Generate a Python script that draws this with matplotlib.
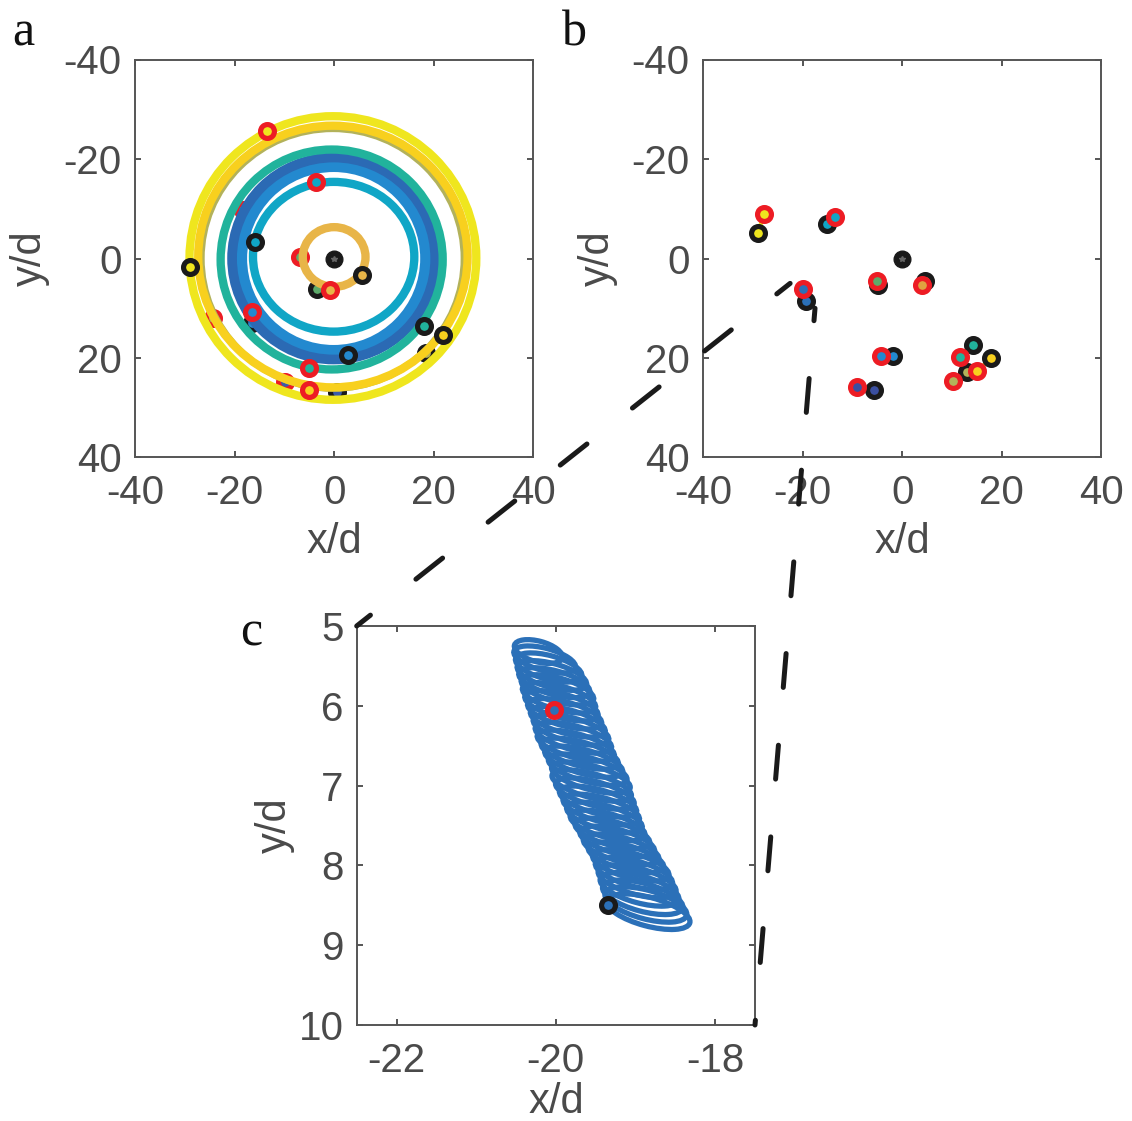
import numpy as np
import matplotlib
matplotlib.use('Agg')
import matplotlib.pyplot as plt
from matplotlib.patches import Ellipse, ConnectionPatch

plt.rcParams.update({
    'font.family': ['Liberation Sans', 'DejaVu Sans'],
    'font.size': 29,
    'axes.unicode_minus': False,
    'axes.linewidth': 1.4, 'axes.edgecolor': '#555555',
    'xtick.color': '#555555', 'ytick.color': '#555555',
    'xtick.labelcolor': '#4a4a4a', 'ytick.labelcolor': '#4a4a4a',
    'axes.labelcolor': '#4a4a4a',
})

# ---- panel a: ring-shaped trajectories (centre, width, height in d) ----
ring_cx = [-0.3, -0.1, -0.1, -0.5, -0.25, -0.25, -0.1, 0.0]
ring_cy = [0.0, 0.0, 0.0, 0.2, -0.4, -0.1, -0.35, -0.3]
ring_w = [52.8, 37.0, 40.8, 44.6, 54.1, 57.6, 32.4, 12.6]
ring_h = [52.2, 37.0, 40.6, 44.2, 52.6, 57.0, 30.1, 12.0]
ring_col = ['#B3B25A', '#2389CF', '#2B6AB4', '#21B39C', '#F8D01E', '#EFE61E', '#10A6C6', '#E8B548']
ring_lw = [5.0, 8.0, 7.0, 6.0, 6.0, 6.0, 6.0, 6.0]

# start (red) / end (black) positions partly hidden under the rings
a_hid_start_x = [-24.4, -9.9, -18.4, -6.9]
a_hid_start_y = [11.9, 24.8, -9.8, -0.3]
a_hid_end_x = [18.4, 0.5, -16.4, -3.4]
a_hid_end_y = [19.0, 26.8, 12.9, 6.1]
a_hid_col = ['#B3B25A', '#3A5BA8', '#2389CF', '#5DAA6A']

# start / end positions drawn on top
a_start_x = [-13.4, -5.1, -5.1, -16.4, -3.7, -0.9]
a_start_y = [-25.7, 26.5, 22.1, 10.8, -15.3, 6.4]
a_end_x = [-29.0, 21.9, 18.0, 2.8, -15.9, 5.5]
a_end_y = [1.7, 15.3, 13.6, 19.3, -3.3, 3.4]
a_col = ['#EFE61E', '#F8D01E', '#21B39C', '#2389CF', '#10A6C6', '#E8B548']

# ---- panel b: snapshot of particle pairs ----
b_start_x = [-27.8, -13.5, -20.0, -5.1, 4.0, -4.3, -9.1, 11.7, 15.1, 10.3]
b_start_y = [-8.9, -8.3, 6.05, 4.6, 5.4, 19.5, 25.9, 19.7, 22.7, 24.7]
b_end_x = [-28.9, -15.0, -19.35, -4.8, 4.5, -1.8, -5.7, 14.3, 17.9, 13.0]
b_end_y = [-5.2, -7.0, 8.5, 5.3, 4.5, 19.5, 26.5, 17.3, 20.0, 22.8]
b_col = ['#EFE61E', '#10A6C6', '#2B70B8', '#5DAA6A', '#E0A040',
         '#2389CF', '#3A4FA0', '#21B39C', '#F8D01E', '#B3B25A']

# ---- panel c: looping trajectory (loop centre, width, height in d) ----
loop_x = [-20.22, -20.14, -20.09, -20.05, -20.02, -19.98, -19.96, -19.93, -19.89, -19.85,
          -19.81, -19.78, -19.75, -19.70, -19.65, -19.60, -19.56, -19.55, -19.51, -19.47,
          -19.43, -19.39, -19.35, -19.29, -19.23, -19.18, -19.12, -19.06, -19.02, -18.98,
          -18.95, -18.91, -18.87, -18.84]
loop_y = [5.32, 5.42, 5.52, 5.62, 5.71, 5.80, 5.90, 6.00, 6.10, 6.20,
          6.30, 6.40, 6.50, 6.60, 6.70, 6.80, 6.90, 7.00, 7.10, 7.20,
          7.30, 7.40, 7.50, 7.60, 7.70, 7.80, 7.90, 8.00, 8.10, 8.20,
          8.30, 8.40, 8.49, 8.58]
loop_w = [0.62, 0.80, 0.86, 0.90, 0.92, 0.94, 0.95, 0.95, 0.96, 0.97,
          0.98, 0.99, 1.00, 1.00, 1.01, 1.02, 1.02, 1.03, 1.02, 1.00,
          0.99, 0.98, 0.97, 0.97, 0.97, 0.98, 0.98, 0.99, 1.00, 1.01,
          1.02, 1.04, 1.06, 1.08]
loop_h = [0.26, 0.28, 0.30, 0.30, 0.30, 0.30, 0.30, 0.30, 0.30, 0.30,
          0.30, 0.30, 0.30, 0.30, 0.30, 0.30, 0.30, 0.30, 0.30, 0.30,
          0.30, 0.30, 0.30, 0.30, 0.30, 0.30, 0.30, 0.31, 0.32, 0.33,
          0.34, 0.35, 0.36, 0.36]
c_start = (-20.02, 6.05)
c_end = (-19.34, 8.50)

W, H = 1132, 1121
fig = plt.figure(figsize=(W / 100, H / 100), dpi=100)
axa = fig.add_axes([135 / W, 1 - 457.5 / H, 398.3 / W, 398 / H])
axb = fig.add_axes([703 / W, 1 - 457.5 / H, 398.3 / W, 398 / H])
axc = fig.add_axes([356.7 / W, 1 - 1025 / H, 398.3 / W, 399 / H])

MS, MEW = 10, 3.7


def ring_marker(ax, x, y, face, edge, z):
    ax.plot(x, y, 'o', ms=MS, mew=MEW, mfc=face, mec=edge, zorder=z)


def centre(ax):
    ax.plot(0, 0, 'o', ms=12, color='#1a1a1a', zorder=6)
    ax.plot(0, 0, '*', ms=4, color='#666666', zorder=7)


# panel a
for i in range(len(a_hid_col)):
    ring_marker(axa, a_hid_end_x[i], a_hid_end_y[i], a_hid_col[i], '#1a1a1a', 1)
    ring_marker(axa, a_hid_start_x[i], a_hid_start_y[i], a_hid_col[i], '#ED1C24', 1)
for i in range(len(ring_cx)):
    axa.add_patch(Ellipse((ring_cx[i], ring_cy[i]), ring_w[i], ring_h[i], fill=False,
                          ec=ring_col[i], lw=ring_lw[i], zorder=2))
for i in range(len(a_col)):
    ring_marker(axa, a_end_x[i], a_end_y[i], a_col[i], '#1a1a1a', 4)
    ring_marker(axa, a_start_x[i], a_start_y[i], a_col[i], '#ED1C24', 5)
centre(axa)

# panel b
for i in range(len(b_col)):
    axb.plot([b_start_x[i], b_end_x[i]], [b_start_y[i], b_end_y[i]], '-', color=b_col[i],
             lw=3, zorder=2)
    ring_marker(axb, b_end_x[i], b_end_y[i], b_col[i], '#1a1a1a', 3)
for i in range(len(b_col)):
    ring_marker(axb, b_start_x[i], b_start_y[i], b_col[i], '#ED1C24', 4)
centre(axb)

# panel c
for i in range(len(loop_x)):
    axc.add_patch(Ellipse((loop_x[i], loop_y[i]), loop_w[i], loop_h[i], angle=15,
                          fill=False, ec='#2B70B8', lw=3.8, zorder=2))
ring_marker(axc, *c_end, '#2B70B8', '#1a1a1a', 4)
ring_marker(axc, *c_start, '#2B70B8', '#ED1C24', 5)

for ax in (axa, axb):
    ax.set_xlim(-40, 40); ax.set_ylim(40, -40)
    ax.set_xticks([-40, -20, 0, 20, 40]); ax.set_yticks([-40, -20, 0, 20, 40])
    ax.xaxis.set_label_coords(0.5, -0.162)
    ax.yaxis.set_label_coords(-0.213, 0.5)
axc.set_xlim(-22.5, -17.5); axc.set_ylim(10, 5)
axc.set_xticks([-22, -20, -18]); axc.set_yticks([5, 6, 7, 8, 9, 10])
axc.xaxis.set_label_coords(0.5, -0.143)
axc.yaxis.set_label_coords(-0.155, 0.5)

for ax in (axa, axb, axc):
    ax.tick_params(direction='in', top=True, right=True, length=4, width=1.4)
    ax.tick_params(axis='x', pad=12)
    ax.tick_params(axis='y', pad=9.5)
    ax.set_xlabel('x/d', fontsize=30)
    ax.set_ylabel('y/d', fontsize=30)

# zoom connectors from panel b to panel c
con1 = ConnectionPatch(xyA=(-22.5, 5), coordsA=axb.transData, xyB=(-22.5, 5),
                       coordsB=axc.transData, color='#1a1a1a', lw=3.6,
                       linestyle=(3.4, (6.8, 11.6)), zorder=10)
con2 = ConnectionPatch(xyA=(-17.5, 10), coordsA=axb.transData, xyB=(-17.5, 10),
                       coordsB=axc.transData, color='#1a1a1a', lw=3.6,
                       linestyle=(4.3, (6.8, 11.6)), zorder=10)
fig.add_artist(con1)
fig.add_artist(con2)

for lab, x, y in [('a', 12, 46), ('b', 562, 46), ('c', 240, 645)]:
    fig.text(x / W, 1 - y / H, lab, fontsize=36, family='Liberation Serif',
             ha='left', va='baseline', color='#111111')

fig.savefig('out.png', dpi=100)
